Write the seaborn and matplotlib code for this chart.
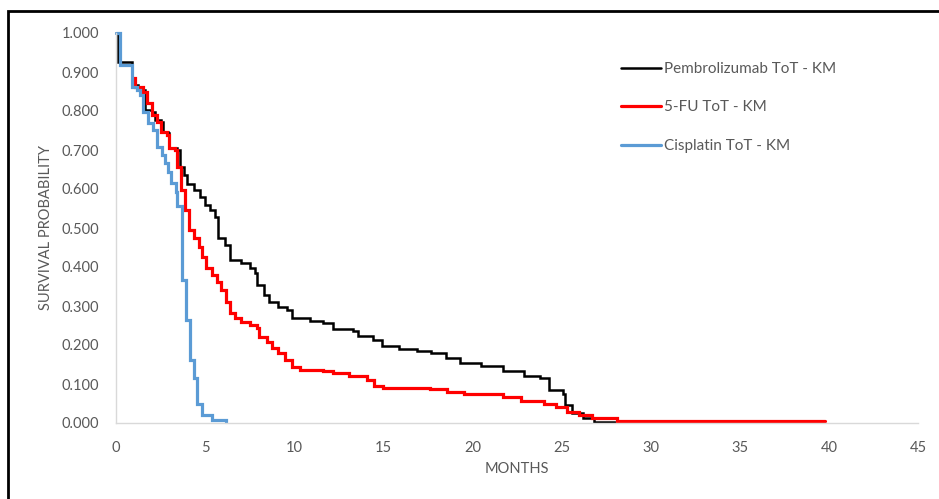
import matplotlib
matplotlib.use("Agg")
import matplotlib.pyplot as plt
import seaborn as sns
import pandas as pd
from matplotlib.patches import Rectangle

# ---- data ----
pembro_t = [0, 0.1, 0.9, 1.25, 1.5, 1.6, 2.0, 2.2, 2.5, 2.65, 2.9, 3.0, 3.4, 3.6, 3.8, 4.0,
            4.4, 4.7, 5.0, 5.3, 5.55, 5.7, 5.75, 6.1, 6.4, 7.0, 7.5, 7.8, 7.9, 8.3, 8.6, 9.1,
            9.6, 9.9, 10.9, 11.6, 12.2, 13.3, 13.6, 14.4, 14.9, 15.9, 16.9, 17.7, 18.5, 19.3,
            20.5, 21.7, 22.9, 23.8, 24.3, 25.1, 25.2, 25.6, 26.2, 26.8, 28.0]
pembro_s = [1.0, 0.925, 0.867, 0.862, 0.854, 0.803, 0.797, 0.777, 0.772, 0.746, 0.744, 0.705,
            0.700, 0.656, 0.636, 0.612, 0.597, 0.579, 0.559, 0.546, 0.528, 0.508, 0.474, 0.456,
            0.418, 0.410, 0.397, 0.385, 0.354, 0.328, 0.310, 0.297, 0.290, 0.270, 0.262, 0.256,
            0.240, 0.235, 0.222, 0.213, 0.197, 0.190, 0.185, 0.180, 0.167, 0.154, 0.146, 0.133,
            0.120, 0.115, 0.085, 0.074, 0.046, 0.026, 0.013, 0.003, 0.003]

fu_t = [0.95, 1.05, 1.5, 1.75, 2.0, 2.3, 2.5, 2.85, 2.95, 3.3, 3.45, 3.65, 3.85, 4.1, 4.4,
        4.65, 4.8, 5.05, 5.4, 5.65, 5.9, 6.15, 6.4, 6.65, 7.0, 7.5, 7.9, 8.05, 8.45, 8.75,
        9.1, 9.5, 9.9, 10.3, 11.6, 12.2, 13.1, 14.1, 14.5, 15.0, 17.6, 18.6, 19.5, 21.7,
        22.7, 24.0, 24.7, 25.3, 26.0, 26.7, 28.1, 39.8]
fu_s = [0.885, 0.862, 0.849, 0.820, 0.790, 0.772, 0.746, 0.738, 0.705, 0.700, 0.656, 0.597,
        0.546, 0.495, 0.474, 0.451, 0.426, 0.397, 0.379, 0.362, 0.341, 0.310, 0.282, 0.269,
        0.259, 0.251, 0.244, 0.220, 0.208, 0.192, 0.180, 0.162, 0.144, 0.136, 0.133, 0.128,
        0.120, 0.110, 0.095, 0.090, 0.087, 0.080, 0.074, 0.067, 0.056, 0.049, 0.041, 0.028,
        0.020, 0.013, 0.005, 0.005]

cis_t = [0, 0.2, 0.9, 1.2, 1.35, 1.5, 1.8, 2.1, 2.3, 2.6, 2.75, 2.9, 3.1, 3.35, 3.45, 3.7,
         3.95, 4.15, 4.35, 4.55, 4.85, 5.4, 6.2]
cis_s = [1.0, 0.918, 0.862, 0.854, 0.841, 0.797, 0.769, 0.751, 0.708, 0.687, 0.667, 0.644,
         0.615, 0.592, 0.556, 0.367, 0.264, 0.162, 0.115, 0.050, 0.020, 0.008, 0.003]

series_labels = ["Pembrolizumab ToT - KM", "5-FU ToT - KM", "Cisplatin ToT - KM"]
x_ticks = [0, 5, 10, 15, 20, 25, 30, 35, 40, 45]
y_ticks = [0.0, 0.1, 0.2, 0.3, 0.4, 0.5, 0.6, 0.7, 0.8, 0.9, 1.0]

# ---- style ----
sns.set_theme(style="white")
plt.rcParams["font.family"] = ["Lato", "DejaVu Sans"]
grey_text = "#595959"

fig = plt.figure(figsize=(9.39, 4.99), dpi=100)
ax = fig.add_axes([116 / 939, 76 / 499, 802 / 939, 390 / 499])

frames = [
    (pembro_t, pembro_s, series_labels[0], "#000000", 1.8),
    (fu_t, fu_s, series_labels[1], "#FF0000", 2.3),
    (cis_t, cis_s, series_labels[2], "#5B9BD5", 2.3),
]
for t, s, lab, col, lw in frames:
    df = pd.DataFrame({"months": t, "surv": s})
    sns.lineplot(data=df, x="months", y="surv", ax=ax, color=col, linewidth=lw,
                 drawstyle="steps-post", estimator=None, sort=False, label=lab,
                 clip_on=False, solid_joinstyle="miter")

ax.set_xlim(0, 45)
ax.set_ylim(0, 1.0)
ax.set_xticks(x_ticks)
ax.set_yticks(y_ticks)
ax.set_xticklabels([str(v) for v in x_ticks])
ax.set_yticklabels([f"{v:.3f}" for v in y_ticks])
ax.tick_params(axis="both", length=0, labelsize=10.5, colors=grey_text)
ax.tick_params(axis="y", pad=12)
ax.tick_params(axis="x", pad=13)

for side in ["top", "right"]:
    ax.spines[side].set_visible(False)
for side in ["left", "bottom"]:
    ax.spines[side].set_color("#D9D9D9")
    ax.spines[side].set_linewidth(1.0)
ax.grid(False)

ax.set_xlabel("MONTHS", fontsize=10.5, color=grey_text)
ax.set_ylabel("SURVIVAL PROBABILITY", fontsize=10.5, color=grey_text)
ax.xaxis.set_label_coords(0.5, -0.101)
ax.yaxis.set_label_coords(-0.078, 0.5)

leg = ax.legend(loc="upper left", bbox_to_anchor=(621 / 939, 1 - 62 / 499),
                bbox_transform=fig.transFigure, frameon=False, fontsize=11,
                handlelength=2.6, handletextpad=0.2, labelspacing=1.6,
                borderpad=0, borderaxespad=0)
for txt in leg.get_texts():
    txt.set_color(grey_text)

# outer black frame (left and top visible, right/bottom cut off)
fig.patches.append(Rectangle((7.5 / 939, -0.1), 1.2, (499 - 10.5) / 499 + 0.1,
                             transform=fig.transFigure, fill=False,
                             edgecolor="black", linewidth=2.0))

fig.savefig("out.png", dpi=100)
